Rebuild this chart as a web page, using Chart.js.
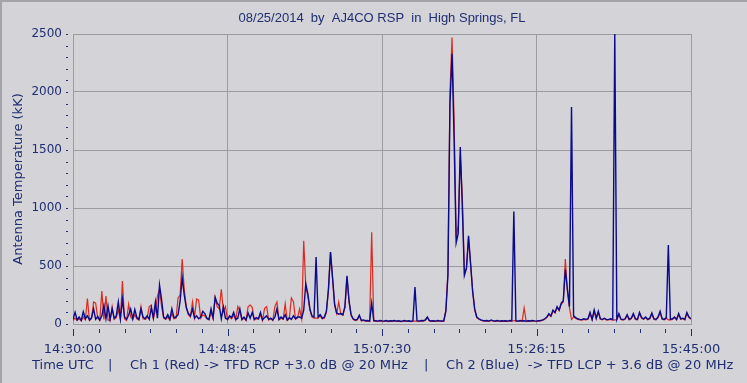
<!DOCTYPE html>
<html>
<head>
<meta charset="utf-8">
<script src="https://cdn.jsdelivr.net/npm/chart.js@4"></script>
<style>
  html, body { margin: 0; padding: 0; background: #d3d3d8; }
  canvas { display: block; }
</style>
</head>
<body>
<canvas id="skypipe" width="747" height="383"></canvas>
<script>
// Radio-SkyPipe style strip chart, 08/25/2014

const chartTitle = '08/25/2014  by  AJ4CO RSP  in  High Springs, FL';
const yAxisTitle = 'Antenna Temperature (kK)';
// footer pieces: text, left x, width it spans in the reference
const footerParts = [
    ['Time UTC', 32, 60],
    ['|', 108, 0],
    ['Ch 1 (Red) -> TFD RCP +3.0 dB @ 20 MHz', 130, 278],
    ['|', 424, 0],
    ['Ch 2 (Blue)  -> TFD LCP + 3.6 dB @ 20 MHz', 446, 288]
];

// x ticks (seconds after 14:30:00) and their labels
const xTickSeconds = [0, 1125, 2250, 3375, 4500];
const xTickLabels = ['14:30:00', '14:48:45', '15:07:30', '15:26:15', '15:45:00'];
const sampleStep = 15; // seconds between samples

// Ch 2 (Blue) - TFD LCP, kK
const blueValues = [
    40, 100, 35, 60, 30, 105, 45, 70, 35, 55,
    130, 40, 65, 35, 70, 160, 45, 155, 40, 130,
    50, 70, 190, 45, 215, 60, 40, 75, 130, 45,
    125, 55, 40, 130, 60, 45, 70, 40, 140, 55,
    190, 50, 335, 210, 60, 45, 80, 40, 130, 55,
    60, 80, 200, 400, 250, 140, 90, 70, 130, 50,
    70, 45, 60, 110, 90, 50, 40, 130, 55, 230,
    180, 160, 45, 145, 50, 40, 70, 55, 100, 40,
    50, 130, 40, 60, 35, 95, 50, 100, 40, 55,
    45, 100, 35, 55, 70, 40, 50, 35, 60, 130,
    40, 60, 45, 80, 35, 55, 40, 70, 45, 60,
    60, 50, 120, 345, 260, 130, 70, 60, 577, 60,
    80, 50, 60, 110, 300, 620, 400, 170, 95, 85,
    90, 80, 150, 415, 200, 80, 45, 35, 40, 75,
    30, 35, 28, 30, 25, 180, 30, 28, 25, 30,
    27, 25, 30, 24, 28, 26, 30, 25, 28, 24,
    26, 30, 25, 28, 24, 27, 318, 28, 25, 30,
    28, 35, 60, 30, 26, 28, 25, 30, 27, 26,
    28, 110, 420, 1900, 2330, 1600, 700, 780, 1525, 1000,
    420, 480, 760, 520, 280, 130, 60, 45, 35, 30,
    28, 30, 25, 35, 27, 26, 30, 25, 28, 26,
    28, 25, 30, 27, 970, 28, 25, 30, 26, 28,
    25, 28, 26, 30, 27, 25, 28, 30, 35, 45,
    60, 90, 70, 120, 100, 150, 120, 180, 200, 470,
    300, 150, 1870, 70, 55, 45, 40, 38, 45, 40,
    45, 100, 40, 120, 50, 110, 45, 40, 50, 38,
    40, 45, 38, 2500, 40, 90, 42, 38, 45, 80,
    40, 50, 90, 45, 40, 100, 55, 45, 60, 40,
    50, 95, 45, 40, 60, 110, 45, 40, 55, 680,
    40, 45, 60, 40, 90, 45, 50, 40, 100, 60, 45
];

// Ch 1 (Red) - TFD RCP, kK
const redValues = [
    30, 50, 30, 45, 28, 60, 35, 220, 30, 45,
    190, 180, 50, 30, 285, 40, 240, 35, 30, 150,
    40, 55, 120, 40, 370, 45, 30, 170, 60, 40,
    80, 45, 35, 150, 45, 40, 55, 150, 163, 45,
    120, 240, 300, 150, 50, 40, 60, 35, 90, 45,
    50, 225, 250, 560, 300, 150, 80, 60, 190, 60,
    215, 205, 50, 80, 70, 45, 35, 100, 45, 230,
    150, 130, 300, 110, 150, 35, 60, 45, 80, 35,
    150, 110, 35, 50, 30, 150, 163, 144, 35, 45,
    40, 80, 30, 136, 150, 35, 45, 30, 150, 190,
    35, 50, 40, 175, 30, 45, 225, 192, 40, 50,
    130, 45, 718, 330, 240, 120, 60, 50, 50, 50,
    70, 45, 50, 100, 290, 620, 390, 160, 90, 190,
    85, 75, 140, 400, 190, 75, 40, 30, 35, 70,
    25, 30, 24, 26, 22, 790, 25, 24, 22, 26,
    24, 22, 26, 21, 25, 23, 26, 22, 25, 21,
    23, 26, 22, 25, 21, 24, 25, 25, 22, 26,
    25, 30, 55, 26, 23, 25, 22, 26, 24, 23,
    25, 120, 440, 2000, 2470, 1750, 750, 850, 1450, 1100,
    440, 480, 740, 520, 290, 120, 55, 40, 32, 27,
    25, 26, 22, 30, 24, 23, 26, 22, 25, 23,
    25, 22, 26, 24, 30, 25, 22, 26, 23, 138,
    22, 25, 23, 26, 24, 22, 25, 26, 30, 40,
    55, 80, 65, 110, 95, 140, 115, 170, 190, 560,
    280, 140, 40, 60, 50, 40, 35, 34, 40, 36,
    40, 90, 36, 110, 45, 100, 40, 36, 45, 34,
    36, 40, 34, 36, 36, 80, 38, 34, 40, 70,
    36, 45, 80, 40, 36, 90, 50, 40, 55, 36,
    45, 85, 40, 36, 55, 100, 40, 36, 50, 36,
    36, 40, 55, 36, 80, 40, 45, 36, 90, 55, 40
];

const textColor = '#1f2f72';
const gridColor = '#9c9ca0';

const toPoints = vals => vals.map((v, i) => ({ x: i * sampleStep, y: v }));

// stretch a text run with letter spacing so it spans the given width
function fitSpacing(ctx, text, width) {
    let best = 0, bestErr = Infinity;
    for (let ls = 0; ls <= 3; ls += 0.05) {
        ctx.letterSpacing = ls.toFixed(2) + 'px';
        const err = Math.abs(ctx.measureText(text).width - width);
        if (err < bestErr) { bestErr = err; best = ls; }
    }
    ctx.letterSpacing = best.toFixed(2) + 'px';
}

// frame, title, footer and the small tick marks drawn outside the plot box
const skypipeDecor = {
    id: 'skypipeDecor',
    beforeDraw(chart) {
        const { ctx, width, height } = chart;
        ctx.save();
        ctx.fillStyle = '#d3d3d8';
        ctx.fillRect(0, 0, width, height);
        ctx.fillStyle = '#a4a4a8';
        ctx.fillRect(0, 0, width, 2);
        ctx.fillRect(0, 0, 2, height);
        ctx.restore();
    },
    afterDraw(chart) {
        const { ctx, chartArea, scales: { x, y } } = chart;
        ctx.save();
        ctx.fillStyle = textColor;
        ctx.font = '13px "Liberation Sans", Arial, sans-serif';
        ctx.textAlign = 'center';
        ctx.textBaseline = 'middle';
        ctx.fillText(chartTitle, (chartArea.left + chartArea.right) / 2, 18);

        ctx.font = '13px "DejaVu Sans", Verdana, sans-serif';
        ctx.textAlign = 'left';
        footerParts.forEach(([text, left, width]) => {
            if (width > 0) fitSpacing(ctx, text, width);
            else ctx.letterSpacing = '0px';
            ctx.fillText(text, left, 366);
        });
        ctx.letterSpacing = '0px';

        // x marks: long on the labelled ticks, short every 187.5 s
        for (let t = 0; t <= 4500; t += 187.5) {
            const px = Math.round(x.getPixelForValue(t));
            const major = xTickSeconds.includes(t);
            ctx.fillRect(px, chartArea.bottom + 5, 1, major ? 7 : 4);
        }
        // y marks every 100 kK
        for (let v = 0; v <= 2500; v += 100) {
            const py = Math.round(y.getPixelForValue(v));
            ctx.fillRect(chartArea.left - 7, py, 2, 1);
        }
        ctx.restore();
    }
};

new Chart(document.getElementById('skypipe'), {
    type: 'line',
    data: {
        datasets: [
            {
                label: 'Ch 2 (Blue)',
                data: toPoints(blueValues),
                borderColor: '#0a0a8a',
                borderWidth: 1.4,
                order: 0
            },
            {
                label: 'Ch 1 (Red)',
                data: toPoints(redValues),
                borderColor: '#dc2a1e',
                borderWidth: 1.2,
                order: 1
            }
        ]
    },
    options: {
        responsive: false,
        animation: false,
        events: [],
        layout: { padding: { top: 34, right: 56, bottom: 0, left: 0 } },
        elements: { point: { radius: 0 }, line: { tension: 0 } },
        plugins: { legend: { display: false }, title: { display: false }, tooltip: { enabled: false } },
        scales: {
            x: {
                type: 'linear',
                min: 0,
                max: 4500,
                afterFit: s => { s.height = 59; },
                afterBuildTicks: s => { s.ticks = xTickSeconds.map(v => ({ value: v })); },
                ticks: {
                    color: textColor,
                    font: { family: 'DejaVu Sans', size: 13 },
                    padding: 18,
                    maxRotation: 0,
                    autoSkip: false,
                    callback: v => xTickLabels[xTickSeconds.indexOf(v)]
                },
                grid: { color: gridColor, drawTicks: false },
                border: { color: gridColor }
            },
            y: {
                min: 0,
                max: 2500,
                afterFit: s => { s.width = 73; },
                ticks: {
                    stepSize: 500,
                    color: textColor,
                    font: { family: 'DejaVu Sans', size: 12 },
                    padding: 11,
                    callback: v => String(v)
                },
                grid: { color: gridColor, drawTicks: false },
                border: { color: gridColor },
                title: {
                    display: true,
                    text: yAxisTitle,
                    color: textColor,
                    font: { family: 'DejaVu Sans', size: 13 },
                    padding: { top: 11, bottom: 0 }
                }
            }
        }
    },
    plugins: [skypipeDecor]
});
</script>
</body>
</html>
